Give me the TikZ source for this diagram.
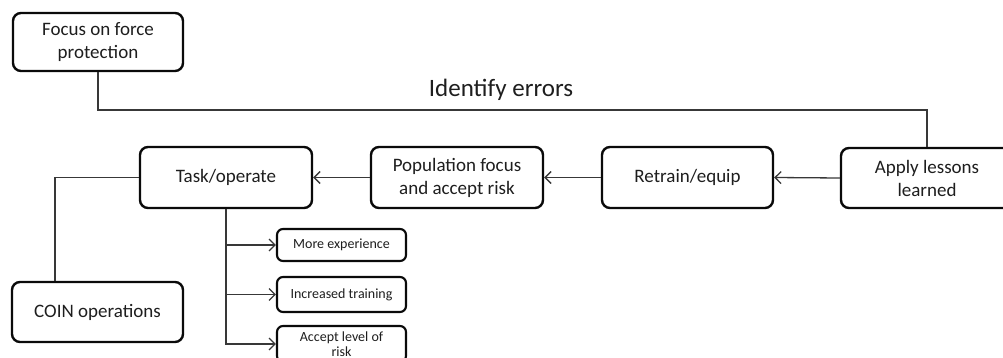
\documentclass[tikz,border=0pt]{standalone}
\usepackage{fontspec}
\setmainfont{Carlito}
\usetikzlibrary{arrows.meta}

\definecolor{boxline}{HTML}{0A0A0A}
\definecolor{linkline}{HTML}{383838}
\definecolor{txt}{HTML}{1E1E1E}

\tikzset{
  bigbox/.style={draw=boxline, line width=2.4pt, rounded corners=8pt, fill=white,
    text=txt, align=center, font=\fontsize{19}{23}\selectfont, inner sep=0pt},
  smallbox/.style={draw=boxline, line width=2.1pt, rounded corners=6pt, fill=white,
    text=txt, align=center, font=\fontsize{14}{15.5}\selectfont, inner sep=0pt,
    minimum width=129pt},
  link/.style={draw=linkline, line width=1.3pt},
  arrowlink/.style={link, -{Straight Barb[length=6pt,width=12pt,line width=1.3pt]}},
}

\begin{document}
\begin{tikzpicture}[x=1pt,y=-1pt]
  \useasboundingbox (0,0) rectangle (1003,358);
  \clip (0,0) rectangle (1003,358);

  % main boxes
  \node[bigbox, minimum width=170pt, minimum height=58pt] (focus) at (98,42) {Focus on force\\protection};
  \node[bigbox, minimum width=171pt, minimum height=60pt] (coin) at (97.5,312) {COIN operations};
  \node[bigbox, minimum width=172pt, minimum height=61pt] (task) at (226,177.5) {Task/operate};
  \node[bigbox, minimum width=172pt, minimum height=61pt] (pop) at (457,177.5) {Population focus\\and accept risk};
  \node[bigbox, minimum width=171pt, minimum height=61pt] (retrain) at (687.5,177.5) {Retrain/equip};
  \node[bigbox, minimum width=172pt, minimum height=60pt] (apply) at (927,178) {Apply lessons\\learned};

  % outcome boxes
  \node[smallbox, minimum height=32pt] (more) at (341.5,245) {More experience};
  \node[smallbox, minimum height=35pt] (incr) at (341.5,294.5) {Increased training};
  \node[smallbox, minimum height=36pt] (accept) at (341.5,344) {Accept level of\\risk};

  % feedback loop label
  \node[anchor=base, text=txt, font=\fontsize{25}{30}\selectfont, inner sep=0pt] (ident) at (501,97) {Identify errors};

  % helper coordinates for the elbow connectors
  \coordinate (loopy) at (0,110);
  \coordinate (coinx) at (55,0);

  % connectors
  \draw[link] (focus.south) |- (loopy -| apply.north) -- (apply.north);
  \draw[arrowlink] (apply.west) -- (retrain.east);
  \draw[arrowlink] (retrain.west) -- (pop.east);
  \draw[arrowlink] (pop.west) -- (task.east);
  \draw[link] (task.west) -| (coin.north -| coinx);
  \draw[arrowlink] (task.south) |- (accept.west);
  \draw[arrowlink] (task.south) |- (incr.west);
  \draw[arrowlink] (task.south) |- (more.west);
\end{tikzpicture}
\end{document}
